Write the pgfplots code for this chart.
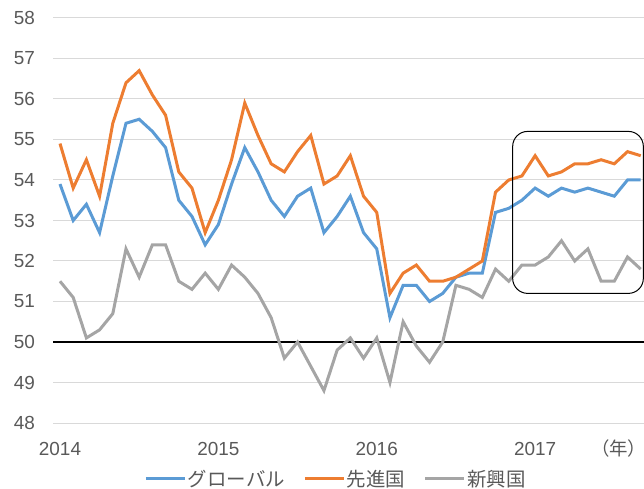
\documentclass[border=0pt]{standalone}
\usepackage{pgfplots}
\usepackage{pgfplotstable}
\pgfplotsset{compat=1.18}
\usepackage{fontspec}
\setmainfont{Liberation Sans}
\newfontfamily\jp{Noto Sans CJK JP}
\newfontfamily\jpp[RawFeature=+palt]{Noto Sans CJK JP}
\definecolor{cblue}{HTML}{5B9BD5}
\definecolor{corange}{HTML}{ED7D31}
\definecolor{cgray}{HTML}{A5A5A5}
\definecolor{ctext}{HTML}{595959}
\definecolor{cgrid}{HTML}{D9D9D9}

\pgfplotstableread{
x g a e
0 53.9 54.9 51.5
1 53.0 53.8 51.1
2 53.4 54.5 50.1
3 52.7 53.6 50.3
4 54.1 55.4 50.7
5 55.4 56.4 52.3
6 55.5 56.7 51.6
7 55.2 56.1 52.4
8 54.8 55.6 52.4
9 53.5 54.2 51.5
10 53.1 53.8 51.3
11 52.4 52.7 51.7
12 52.9 53.5 51.3
13 53.9 54.5 51.9
14 54.8 55.9 51.6
15 54.2 55.1 51.2
16 53.5 54.4 50.6
17 53.1 54.2 49.6
18 53.6 54.7 50.0
19 53.8 55.1 49.4
20 52.7 53.9 48.8
21 53.1 54.1 49.8
22 53.6 54.6 50.1
23 52.7 53.6 49.6
24 52.3 53.2 50.1
25 50.6 51.2 49.0
26 51.4 51.7 50.5
27 51.4 51.9 49.9
28 51.0 51.5 49.5
29 51.2 51.5 50.0
30 51.6 51.6 51.4
31 51.7 51.8 51.3
32 51.7 52.0 51.1
33 53.2 53.7 51.8
34 53.3 54.0 51.5
35 53.5 54.1 51.9
36 53.8 54.6 51.9
37 53.6 54.1 52.1
38 53.8 54.2 52.5
39 53.7 54.4 52.0
40 53.8 54.4 52.3
41 53.7 54.5 51.5
42 53.6 54.4 51.5
43 54.0 54.7 52.1
44 54.0 54.6 51.8
}\pmidata

\begin{document}
\begin{tikzpicture}
\path[use as bounding box] (-53.4bp,-66bp) rectangle (590.6bp,423bp);
\begin{axis}[
  at={(0,0)}, anchor=south west,
  scale only axis, width=590.6bp, height=405bp,
  xmin=-0.5, xmax=44.25, ymin=48, ymax=58,
  clip=false,
  axis line style={draw=none},
  major tick length=0pt,
  ymajorgrids, grid style={cgrid, line width=1bp},
  ytick={48,49,...,58},
  xtick={0,12,24,36}, xticklabels={2014,2015,2016,2017},
  /pgf/number format/assume math mode=true,
  ticklabel style={font=\fontsize{19}{22}\selectfont, text=ctext},
  yticklabel style={anchor=east, xshift=-15bp},
  xticklabel style={anchor=base, yshift=-32bp},
  legend style={at={(0.478,-0.138)}, anchor=center, draw=none, fill=none,
    legend columns=3, font=\fontsize{19.5}{22}\selectfont\jp, text=ctext,
    /tikz/every even column/.append style={column sep=17bp},
    inner sep=0pt, nodes={inner sep=1.5bp}},
  legend image code/.code={\draw[#1, line width=3bp] (0bp,0bp) -- (39bp,0bp);},
]
\addplot[black, line width=2bp, forget plot] coordinates {(-0.5,50) (44.25,50)};
\addplot[cblue, line width=3bp] table[x=x, y=g] {\pmidata};
\addplot[corange, line width=3bp] table[x=x, y=a] {\pmidata};
\addplot[cgray, line width=3bp] table[x=x, y=e] {\pmidata};
\legend{グローバル, 先進国, 新興国}
\draw[black, line width=1bp, rounded corners=15bp] (axis cs:34.3,51.2) rectangle (axis cs:44.2,55.2);
\node[anchor=base east, inner sep=0pt, font=\fontsize{18.5}{22}\selectfont\jpp, text=ctext] at (axis cs:43.75,48) [yshift=-32bp] {（年）};
\end{axis}
\end{tikzpicture}
\end{document}
